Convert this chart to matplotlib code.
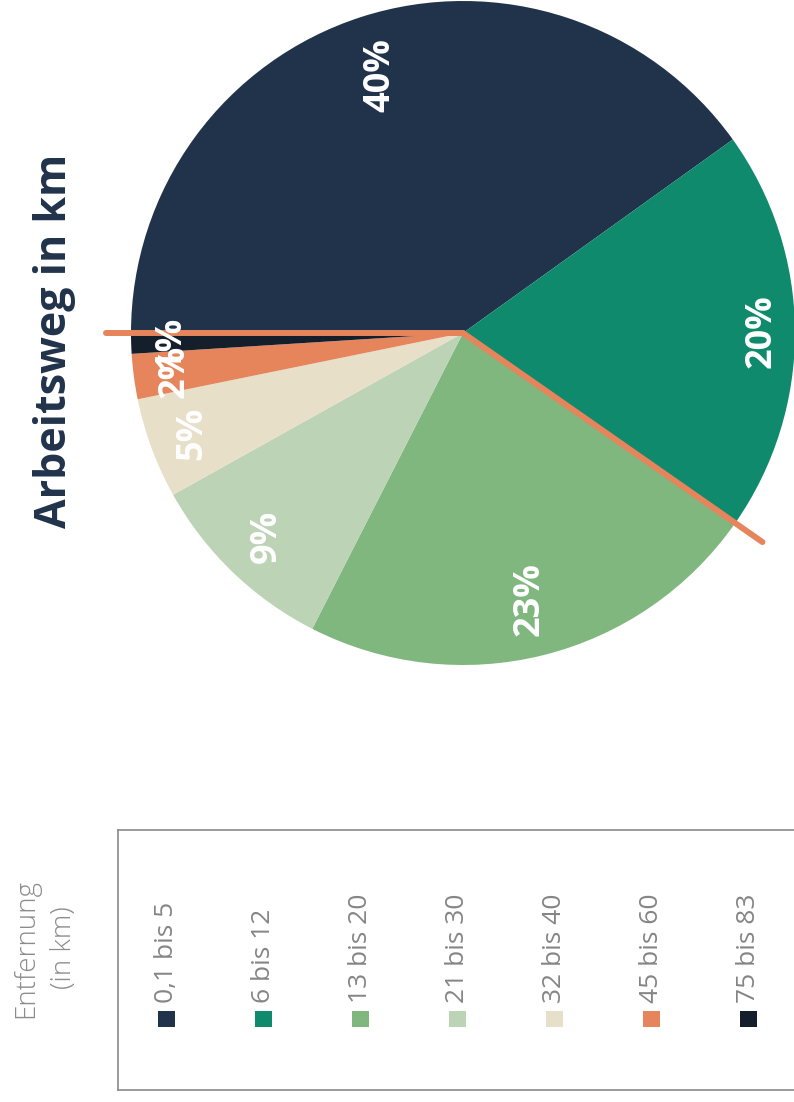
"""Arbeitsweg in km - gedrehtes Kreisdiagramm."""

import matplotlib

matplotlib.use("Agg")
import matplotlib.pyplot as plt
import numpy as np

plt.rcParams["font.family"] = ["Open Sans", "DejaVu Sans"]

categories = ["0,1 bis 5", "6 bis 12", "13 bis 20", "21 bis 30", "32 bis 40", "45 bis 60", "75 bis 83"]
shares = [40.1, 19.6, 22.8, 9.4, 4.9, 2.2, 1.0]
colors = ["#21334a", "#0f8a6c", "#80b77f", "#bcd3b5", "#e8dfc8", "#e6845c", "#141f2b"]
title = "Arbeitsweg in km"
legend_title = "Entfernung\n(in km)"

W, H = 794, 1102
fig = plt.figure(figsize=(W / 100, H / 100), dpi=100)

# pie axes (pixel layout of the rotated chart)
cx, cy, r = 463, 333, 332
lim = 1.2
half = lim * r
ax = fig.add_axes([(cx - half) / W, (H - cy - half) / H, 2 * half / W, 2 * half / H])
wedges, _, autotexts = ax.pie(
    shares,
    colors=colors,
    startangle=180,
    counterclock=False,
    autopct=lambda p: f"{p:.0f}%",
    textprops=dict(color="white", fontsize=26, fontweight="bold", rotation=90),
    wedgeprops=dict(linewidth=0),
)
# label distance from centre differs a little per slice in the original
label_dist = [0.815, 0.90, 0.825, 0.85, 0.87, 0.875, 0.88]
for w, t, d in zip(wedges, autotexts, label_dist):
    a = np.deg2rad((w.theta1 + w.theta2) / 2)
    t.set_position((d * np.cos(a), d * np.sin(a)))
    t.set_ha("center")
    t.set_va("center")
ax.set_xlim(-lim, lim)
ax.set_ylim(-lim, lim)
ax.axis("off")

# orange marker lines along wedge edges (start of first, end of second slice)
for w, key, ext in [(wedges[0], "theta2", 1.075), (wedges[1], "theta1", 1.10)]:
    a = np.deg2rad(getattr(w, key))
    ax.plot([0, ext * np.cos(a)], [0, ext * np.sin(a)], color="#e6845c", lw=4.3,
            solid_capstyle="round", clip_on=False)

fig.text(55 / W, 1 - 341 / H, title, rotation=90, ha="center", va="center",
         fontsize=31, fontweight="bold", color="#21334a")

# legend
step = 97
lx0, ly0, ly1 = 118, 830, 1090
lax = fig.add_axes([lx0 / W, (H - ly1) / H, 7 * step / W, (ly1 - ly0) / H])
lax.set_xlim(-0.5, 6.5)
lax.set_ylim(0, ly1 - ly0)
lax.set_xticks([])
lax.set_yticks([])
for s in lax.spines.values():
    s.set_color("#8a8a8a")
    s.set_linewidth(1.2)
lax.scatter(range(len(categories)), [ly1 - 1019] * len(categories), marker="s", s=145,
            c=colors, linewidths=0)
for i, cat in enumerate(categories):
    lax.text(i, ly1 - 1003, cat, rotation=90, ha="center", va="bottom",
             fontsize=19, fontweight="normal", color="#858585")

fig.text(45 / W, 1 - 948 / H, legend_title, rotation=90, ha="center", va="center",
         multialignment="center", fontsize=20, fontweight="light", color="#8c8c8c",
         linespacing=1.5)

fig.savefig("out.png", dpi=100)
plt.close(fig)
